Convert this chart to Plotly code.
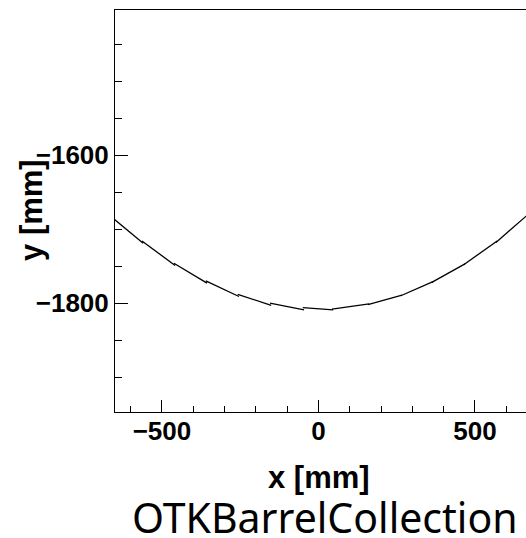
import plotly.graph_objects as go

# Outer-tracker barrel staves seen in the x-y plane (bottom arc), one flat
# segment per stave: start/end x and start/end y in mm.
stave_x0 = [-660, -564, -462, -360, -258, -155, -50, 43, 158, 263, 362, 464, 567]
stave_x1 = [-560, -458, -356, -254, -151, -46, 47, 162, 267, 366, 468, 571, 670]
stave_y0 = [-1684, -1716, -1746, -1770, -1788, -1800, -1806, -1808, -1802, -1790, -1772, -1748, -1718]
stave_y1 = [-1719, -1749, -1773, -1791, -1803, -1809, -1809, -1801, -1789, -1771, -1747, -1716, -1680]

x_ticks = [-500, 0, 500]
x_tick_text = ["\u2212500", "0", "500"]
y_ticks = [-1800, -1600]
y_tick_text = ["\u22121800", "\u22121600"]

xs, ys = [], []
for a, b, c, d in zip(stave_x0, stave_x1, stave_y0, stave_y1):
    xs += [a, b, None]
    ys += [c, d, None]

fig = go.Figure()
fig.add_trace(go.Scatter(
    x=xs, y=ys, mode="lines",
    line=dict(color="black", width=1.3),
    connectgaps=False, hoverinfo="skip", showlegend=False,
))

tick_font = dict(family="Liberation Sans, Arial, sans-serif", size=26, color="black", weight="bold")

fig.update_layout(
    width=526, height=538,
    margin=dict(l=115, r=0, t=10, b=126),
    paper_bgcolor="white", plot_bgcolor="white",
    xaxis=dict(
        range=[-650, 663], showgrid=False, zeroline=False,
        showline=True, linecolor="black", linewidth=1, mirror=True,
        ticks="inside", ticklen=12, tickwidth=1, tickcolor="black",
        tickvals=x_ticks, ticktext=x_tick_text, tickfont=tick_font,
        ticklabelstandoff=-4,
        minor=dict(dtick=100, ticks="inside", ticklen=6, tickwidth=1, tickcolor="black", showgrid=False),
    ),
    yaxis=dict(
        range=[-1947, -1404], showgrid=False, zeroline=False,
        showline=True, linecolor="black", linewidth=1,
        ticks="inside", ticklen=13, tickwidth=1, tickcolor="black",
        tickvals=y_ticks, ticktext=y_tick_text, tickfont=tick_font,
        minor=dict(dtick=50, ticks="inside", ticklen=7, tickwidth=1, tickcolor="black", showgrid=False),
    ),
    annotations=[
        dict(text="x [mm]", xref="paper", yref="paper", x=0.496, y=-0.163,
             xanchor="center", yanchor="middle", showarrow=False,
             font=dict(family="Liberation Sans, Arial, sans-serif", size=31, color="black", weight="bold")),
        dict(text="y [mm]", xref="paper", yref="paper", x=-0.205, y=0.502,
             xanchor="center", yanchor="middle", showarrow=False, textangle=-90,
             font=dict(family="Liberation Sans, Arial, sans-serif", size=31, color="black", weight="bold")),
        dict(text="OTKBarrelCollection", xref="paper", yref="paper", x=0.51, y=-0.262,
             xanchor="center", yanchor="middle", showarrow=False,
             font=dict(family="Noto Sans, sans-serif", size=41, color="black")),
    ],
)

fig.write_html("out.html")
